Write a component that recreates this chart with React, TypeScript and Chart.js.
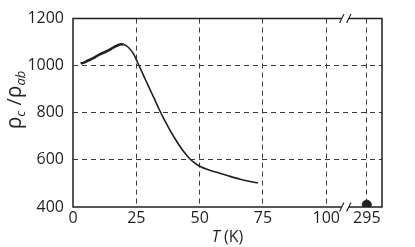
import React, { useEffect, useRef } from 'react';
import { Chart, registerables } from 'chart.js';

Chart.register(...registerables);

// ---- data ----
const temperatures = [3, 4, 6, 8, 10, 12, 14, 16, 18, 19, 20, 21, 22, 23, 24, 25, 26, 28, 30, 32, 34, 36, 38, 40, 42, 44, 46, 48, 50, 54, 58, 62, 66, 70, 73];
const ratios = [1010, 1012, 1022, 1032, 1045, 1055, 1065, 1078, 1088, 1091, 1090, 1085, 1076, 1064, 1048, 1026, 1002, 955, 908, 862, 815, 772, 732, 695, 661, 631, 606, 587, 573, 556, 543, 530, 518, 508, 502];
const roomTemps = [295];
const roomRatios = [410];
const xTickValues = [0, 25, 50, 75, 100, 295];
const yTickValues = [400, 600, 800, 1000, 1200];

// broken axis: 0..100 linear, break, then room temperature
const LOW_MAX = 100;
const BREAK_POS = 107.5;
const ROOM_POS = 116;
const AXIS_MAX = 122;
const axisPos = (t: number) => (t <= LOW_MAX ? t : ROOM_POS + (t - 295));
const axisLabel = (p: number) => (p <= LOW_MAX ? String(p) : '295');

const FONT = "'Open Sans', 'Noto Sans', sans-serif";
const INK = '#231f20';

const decor = {
  id: 'decor',
  beforeDatasetsDraw(chart: any) {
    const { ctx, chartArea } = chart;
    const { left, right, top, bottom } = chartArea;
    const bx = chart.scales.x.getPixelForValue(BREAK_POS);
    const g = 3.5;
    ctx.save();
    ctx.strokeStyle = INK;
    ctx.lineWidth = 1.5;
    ctx.beginPath();
    ctx.moveTo(left, top - 0.75);
    ctx.lineTo(left, bottom + 0.75);
    ctx.moveTo(right, top - 0.75);
    ctx.lineTo(right, bottom + 0.75);
    for (const y of [top, bottom]) {
      ctx.moveTo(left, y);
      ctx.lineTo(bx - g, y);
      ctx.moveTo(bx + g, y);
      ctx.lineTo(right, y);
    }
    ctx.stroke();
    ctx.lineWidth = 1.1;
    ctx.beginPath();
    for (const y of [top, bottom]) {
      for (const dx of [-g, g]) {
        ctx.moveTo(bx + dx - 2.2, y + 4.5);
        ctx.lineTo(bx + dx + 2.2, y - 4.5);
      }
    }
    ctx.stroke();
    ctx.restore();
  },
  afterDraw(chart: any) {
    const { ctx, chartArea } = chart;
    ctx.save();
    ctx.fillStyle = INK;
    ctx.textBaseline = 'alphabetic';
    // x title: T (K)
    const cx = (chartArea.left + chartArea.right) / 2;
    const fT = `italic 16px ${FONT}`;
    const fK = `16px ${FONT}`;
    ctx.font = fT;
    const wT = ctx.measureText('T').width;
    ctx.font = fK;
    const wK = ctx.measureText(' (K)').width;
    const x0 = cx - (wT + wK) / 2;
    ctx.font = fT;
    ctx.fillText('T', x0, 242);
    ctx.font = fK;
    ctx.fillText(' (K)', x0 + wT, 242);

    // y title: ρc /ρab
    const parts: [string, string, number][] = [
      ['ρ', `21px ${FONT}`, 0],
      ['c', `italic 13px ${FONT}`, 4],
      [' /', `20px ${FONT}`, 0],
      ['ρ', `21px ${FONT}`, 0],
      ['ab', `italic 13px ${FONT}`, 4],
    ];
    let total = 0;
    const widths = parts.map(([t, f]) => {
      ctx.font = f;
      const w = ctx.measureText(t).width;
      total += w;
      return w;
    });
    ctx.translate(21, 100);
    ctx.rotate(-Math.PI / 2);
    let px = -total / 2;
    parts.forEach(([t, f, dy], i) => {
      ctx.font = f;
      ctx.fillText(t, px, dy);
      px += widths[i];
    });
    ctx.restore();
  },
};

export default function App() {
  const ref = useRef<HTMLCanvasElement | null>(null);
  useEffect(() => {
    document.body.style.margin = '0';
    const canvas = ref.current;
    if (!canvas) return;
    const tickFont = { family: FONT, size: 16 };
    const chart = new Chart(canvas, {
      type: 'line',
      data: {
        datasets: [
          {
            data: temperatures.map((t, i) => ({ x: axisPos(t), y: ratios[i] })),
            borderColor: INK,
            borderWidth: 1.5,
            pointRadius: 0,
            cubicInterpolationMode: 'monotone',
            segment: {
              borderWidth: (c: any) => (c.p0.parsed.x < 20 ? 2.6 : 1.6),
            },
          } as any,
          {
            data: roomTemps.map((t, i) => ({ x: axisPos(t), y: roomRatios[i] })),
            showLine: false,
            pointRadius: 4.5,
            pointBackgroundColor: INK,
            pointBorderColor: INK,
            borderColor: INK,
          },
        ],
      },
      options: {
        responsive: false,
        animation: false,
        layout: { padding: { top: 11, right: 33, left: 0, bottom: 0 } },
        plugins: { legend: { display: false }, tooltip: { enabled: false } },
        scales: {
          x: {
            type: 'linear',
            min: 0,
            max: AXIS_MAX,
            afterBuildTicks: (s: any) => {
              s.ticks = xTickValues.map((v) => ({ value: axisPos(v) }));
            },
            afterFit: (s: any) => {
              s.height = 40;
            },
            ticks: {
              callback: (v: any) => axisLabel(Number(v)),
              font: tickFont,
              color: INK,
              padding: 2,
              maxRotation: 0,
              autoSkip: false,
            },
            grid: {
              drawTicks: false,
              lineWidth: 1,
              color: (c: any) => (c.tick && c.tick.value === 0 ? 'rgba(0,0,0,0)' : '#3a3a3a'),
            },
            border: { display: false, dash: [5, 4] },
          },
          y: {
            min: 400,
            max: 1200,
            afterBuildTicks: (s: any) => {
              s.ticks = yTickValues.map((v) => ({ value: v }));
            },
            afterFit: (s: any) => {
              s.width = 73;
            },
            ticks: {
              callback: (v: any) => String(v),
              font: tickFont,
              color: INK,
              padding: 9,
            },
            grid: {
              drawTicks: false,
              lineWidth: 1,
              color: (c: any) =>
                c.tick && (c.tick.value === 400 || c.tick.value === 1200) ? 'rgba(0,0,0,0)' : '#3a3a3a',
            },
            border: { display: false, dash: [5, 4] },
          },
        },
      },
      plugins: [decor],
    } as any);
    return () => chart.destroy();
  }, []);
  return <canvas ref={ref} width={415} height={247} style={{ display: 'block' }} />;
}
